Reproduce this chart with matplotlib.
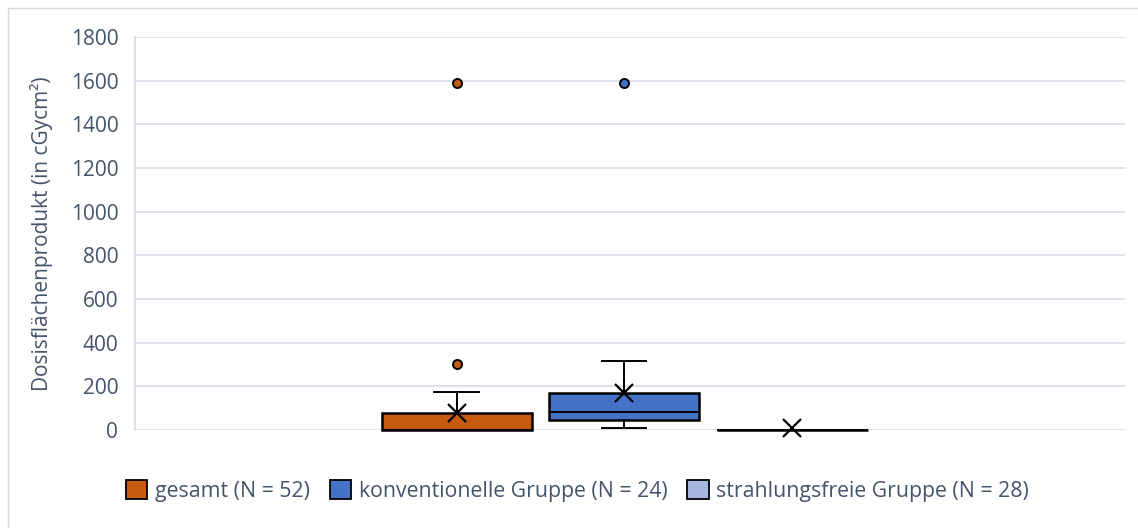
import matplotlib
matplotlib.use("Agg")
import matplotlib.pyplot as plt
from matplotlib.patches import Patch, Rectangle

# ---- data ----
groups = ["gesamt (N = 52)", "konventionelle Gruppe (N = 24)", "strahlungsfreie Gruppe (N = 28)"]
q1 = [0, 47, 0]
median = [0, 84, 0]
q3 = [80, 168, 0]
whislo = [0, 11, 0]
whishi = [173, 316, 0]
means = [78, 170, 8]
outliers = [[302, 1590], [1590], []]
yticks = [0, 200, 400, 600, 800, 1000, 1200, 1400, 1600, 1800]

colors = ["#C55A11", "#4472C4", "#A9B6E0"]
text_color = "#44546A"
grid_color = "#D9DEE8"

plt.rcParams['font.family'] = ['Open Sans', 'DejaVu Sans']

fig = plt.figure(figsize=(11.38, 5.28), dpi=100)
W, H = 1138, 528
ax = fig.add_axes([135 / W, 1 - 430 / H, (1125 - 135) / W, (430 - 37) / H])

# outer chart frame
fig.patches.append(Rectangle((8 / W, -0.5), 2.0, 1 - 8 / H + 0.5, transform=fig.transFigure,
                             fill=False, edgecolor="#D9D9D9", linewidth=1.0, zorder=0))

positions = [0.325, 0.494, 0.664]
width = 0.152

for i in range(len(groups)):
    stats = [dict(label=groups[i], q1=q1[i], med=median[i], q3=q3[i], whislo=whislo[i],
                  whishi=whishi[i], mean=means[i], fliers=outliers[i])]
    res = ax.bxp(stats, positions=[positions[i]], widths=width, capwidths=0.045,
                 patch_artist=True, showmeans=True, manage_ticks=False,
                 boxprops=dict(facecolor=colors[i], edgecolor="black", linewidth=1.8),
                 medianprops=dict(color="black", linewidth=1.4),
                 whiskerprops=dict(color="black", linewidth=1.4),
                 capprops=dict(color="black", linewidth=1.4),
                 meanprops=dict(marker="x", markeredgecolor="black", markersize=12.5,
                                markeredgewidth=1.6),
                 flierprops=dict(marker="o", markerfacecolor=colors[i], markeredgecolor="black",
                                 markersize=6.5, markeredgewidth=1.4))
    for key in ("boxes", "medians", "means", "whiskers", "caps"):
        for art in res[key]:
            art.set_clip_on(False)

ax.set_xlim(0, 1)
ax.set_ylim(0, 1800)
ax.set_yticks(yticks)
ax.set_xticks([])
ax.yaxis.grid(True, color=grid_color, linewidth=1.3)
ax.set_axisbelow(True)
for s in ["top", "right", "bottom"]:
    ax.spines[s].set_visible(False)
ax.spines["left"].set_color(grid_color)
ax.spines["left"].set_linewidth(1.3)
ax.tick_params(axis="y", length=0, pad=12, labelsize=15, labelcolor=text_color)
ax.set_ylabel("Dosisflächenprodukt (in cGycm²)", fontsize=15, color=text_color, labelpad=13)

handles = [Patch(facecolor=c, edgecolor="black", linewidth=1.3) for c in colors]
fig.legend(handles, groups, loc="center", bbox_to_anchor=(0.5075, 1 - 491 / H), ncol=3,
           frameon=False, fontsize=15.3, labelcolor=text_color, handlelength=1.0,
           handleheight=1.0, handletextpad=0.35, columnspacing=0.95)

fig.savefig("out.png", dpi=100)
